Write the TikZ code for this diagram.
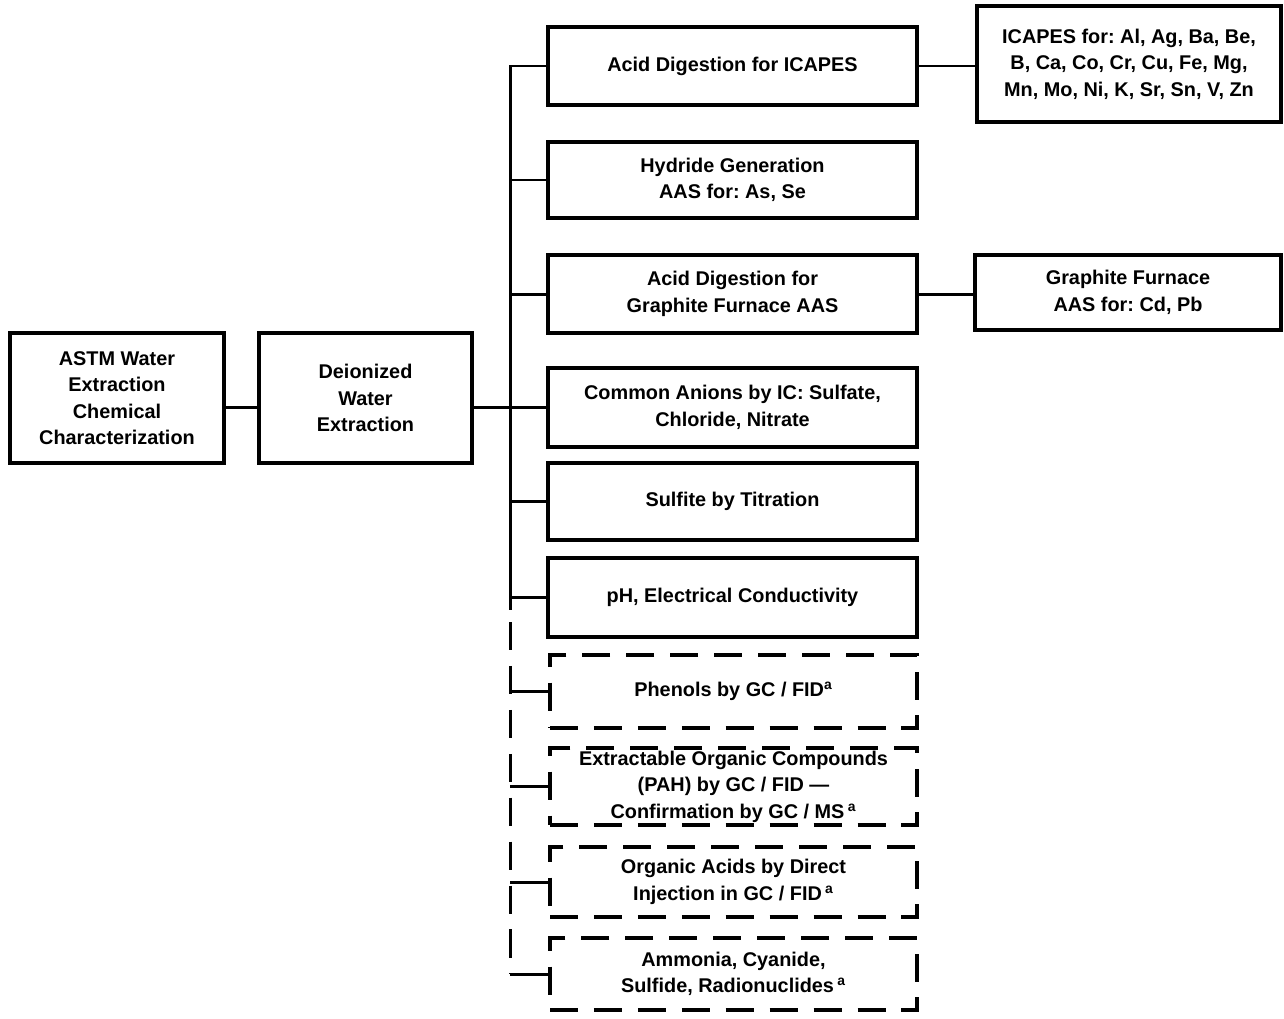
\documentclass[tikz,border=0pt]{standalone}
\usepackage{fontspec}
\setmainfont{Liberation Sans}
\frenchspacing
\begin{document}
\begin{tikzpicture}[x=0.02cm,y=-0.02cm,
  every node/.style={font=\bfseries\fontsize{11.3}{15}\selectfont, align=center, inner sep=0pt},
  box/.style={draw, line width=2.2pt, rectangle},
  dbox/.style={draw, line width=2.2pt, rectangle, dash pattern=on 16pt off 9pt},
  conn/.style={line width=1.7pt},
  dconn/.style={line width=1.7pt, dash pattern=on 16pt off 9pt}]
\useasboundingbox (0,0) rectangle (1284,1018);
% left boxes
\node[box, minimum width=4.28cm, minimum height=2.6cm] (astm) at (117,398)
  {ASTM Water\\Extraction\\Chemical\\Characterization};
\node[box, minimum width=4.26cm, minimum height=2.6cm] (deion) at (365.5,398)
  {Deionized\\Water\\Extraction};
% solid method boxes
\node[box, minimum width=7.38cm, minimum height=1.56cm] (b1) at (732.5,66) {Acid Digestion for ICAPES};
\node[box, minimum width=7.38cm, minimum height=1.52cm] (b2) at (732.5,180) {Hydride Generation\\AAS for: As, Se};
\node[box, minimum width=7.38cm, minimum height=1.56cm] (b3) at (732.5,294) {Acid Digestion for\\Graphite Furnace AAS};
\node[box, minimum width=7.38cm, minimum height=1.58cm] (b4) at (732.5,407.5) {Common Anions by IC: Sulfate,\\Chloride, Nitrate};
\node[box, minimum width=7.38cm, minimum height=1.54cm] (b5) at (732.5,501.5) {Sulfite by Titration};
\node[box, minimum width=7.38cm, minimum height=1.58cm] (b6) at (732.5,597.5) {pH, Electrical Conductivity};
% dashed method boxes
\node[dbox, minimum width=7.34cm, minimum height=1.46cm] (d7) at (733.5,691.5) {Phenols by GC / FID\textsuperscript{a}};
\node[dbox, minimum width=7.34cm, minimum height=1.54cm] (d8) at (733.5,786.5)
  {Extractable Organic Compounds\\(PAH) by GC / FID ---\\Confirmation by GC / MS\,\textsuperscript{a}};
\node[dbox, minimum width=7.34cm, minimum height=1.40cm] (d9) at (733.5,882)
  {Organic Acids by Direct\\Injection in GC / FID\,\textsuperscript{a}};
\node[dbox, minimum width=7.34cm, minimum height=1.44cm] (d10) at (733.5,974)
  {Ammonia, Cyanide,\\Sulfide, Radionuclides\,\textsuperscript{a}};
% right boxes
\node[box, minimum width=6.08cm, minimum height=2.32cm] (icp) at (1129,64)
  {ICAPES for: Al, Ag, Ba, Be,\\B, Ca, Co, Cr, Cu, Fe, Mg,\\Mn, Mo, Ni, K, Sr, Sn, V, Zn};
\node[box, minimum width=6.12cm, minimum height=1.5cm] (gf) at (1128,292.5)
  {Graphite Furnace\\AAS for: Cd, Pb};
% trunk coordinates
\coordinate (tsolid) at (510,610);
\coordinate (tdash) at (510,622);
% connectors
\draw[conn] (astm.east |- b4.west) -- (deion.west |- b4.west);
\draw[conn] (deion.east |- b4.west) -- (b4.west);
\draw[conn] (b1.west) -| (tsolid);
\foreach \b in {b2,b3,b5,b6} \draw[conn] (tsolid |- \b.west) -- (\b.west);
\draw[dconn] (tdash) -- (tdash |- d10.west);
\draw[conn] (tdash |- d10.west) -- (d10.west);
\foreach \b in {d7,d8,d9} \draw[conn] (tdash |- \b.west) -- (\b.west);
\draw[conn] (b1.east) -- (b1.east -| icp.west);
\draw[conn] (b3.east) -- (b3.east -| gf.west);
\end{tikzpicture}
\end{document}
